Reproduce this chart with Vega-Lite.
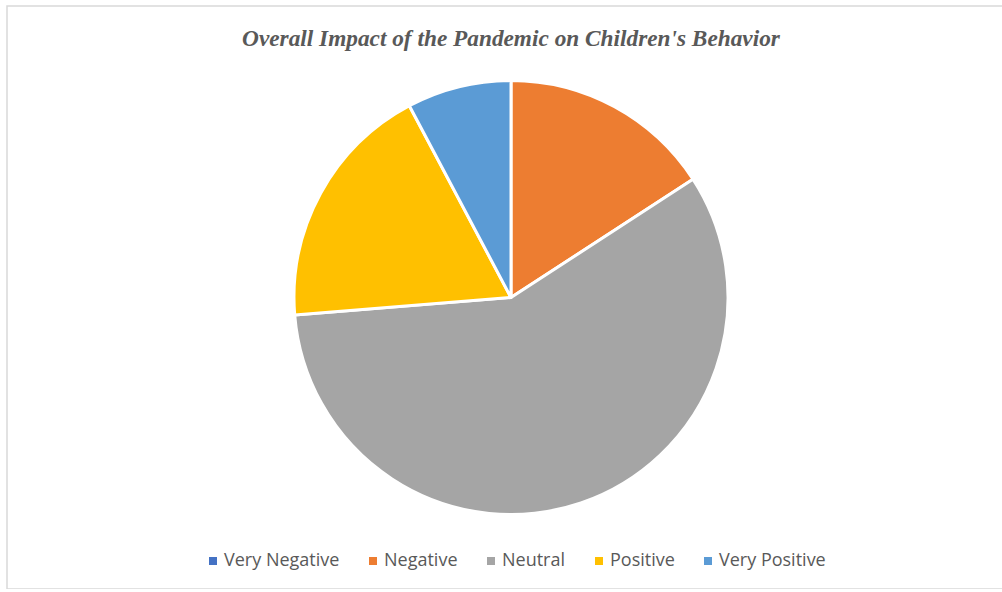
{
  "$schema": "https://vega.github.io/schema/vega-lite/v6.json",
  "autosize": {"type": "none"},
  "padding": {"left": 7, "top": 6, "right": 0, "bottom": 0},
  "width": 1008,
  "height": 583,
  "background": "white",
  "view": {"stroke": "#d9d9d9", "strokeWidth": 1.5},
  "title": {
    "text": "Overall Impact of the Pandemic on Children's Behavior",
    "font": "Liberation Serif",
    "fontSize": 23.3,
    "fontWeight": "bold",
    "fontStyle": "italic",
    "color": "#595959",
    "anchor": "middle",
    "baseline": "alphabetic",
    "offset": 0,
    "dy": 63
  },
  "data": {
    "values": [
      {"impact": "Very Negative", "share": 0, "order": 1},
      {"impact": "Negative", "share": 15.83, "order": 2},
      {"impact": "Neutral", "share": 57.88, "order": 3},
      {"impact": "Positive", "share": 18.53, "order": 4},
      {"impact": "Very Positive", "share": 7.76, "order": 5}
    ]
  },
  "mark": {"type": "arc", "radius": 217, "stroke": "white", "strokeWidth": 3},
  "encoding": {
    "theta": {"field": "share", "type": "quantitative", "stack": true},
    "order": {"field": "order", "type": "quantitative"},
    "color": {
      "field": "impact",
      "type": "nominal",
      "sort": ["Very Negative", "Negative", "Neutral", "Positive", "Very Positive"],
      "scale": {
        "domain": ["Very Negative", "Negative", "Neutral", "Positive", "Very Positive"],
        "range": ["#4472C4", "#ED7D31", "#A5A5A5", "#FFC000", "#5B9BD5"]
      },
      "legend": {
        "title": null,
        "orient": "none",
        "direction": "horizontal",
        "columns": 5,
        "legendX": 197,
        "legendY": 546,
        "padding": 0,
        "symbolType": "square",
        "symbolSize": 64,
        "symbolStrokeWidth": 0,
        "labelFont": "Open Sans",
        "labelFontSize": 18,
        "labelColor": "#595959",
        "labelOffset": 2,
        "columnPadding": 24,
        "labelLimit": 300
      }
    }
  },
  "config": {"arc": {"strokeJoin": "round"}}
}
